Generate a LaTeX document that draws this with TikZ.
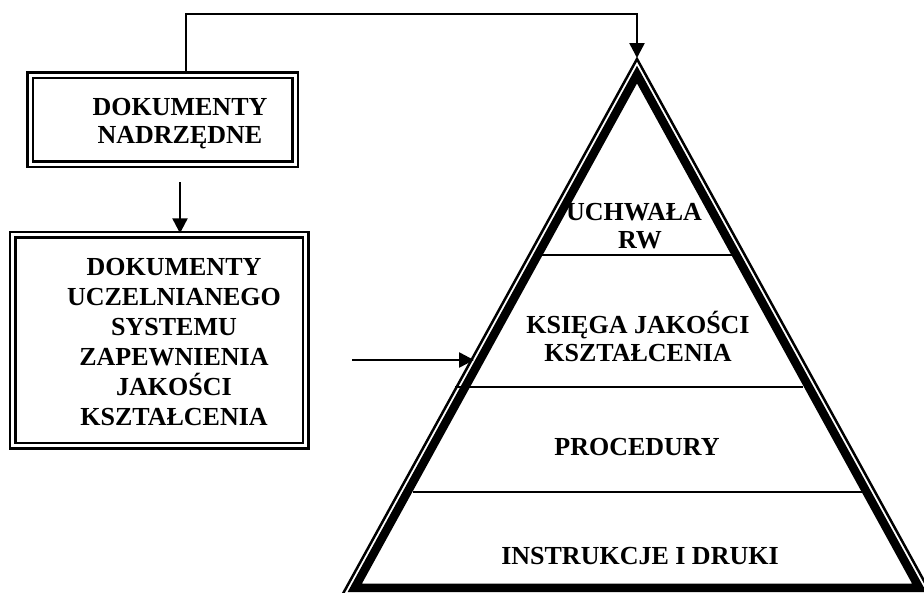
\documentclass[tikz,border=0pt]{standalone}
\usepackage{fontspec}
\setmainfont{Liberation Serif}
\usetikzlibrary{arrows.meta}
\begin{document}
\begin{tikzpicture}[x=1pt,y=-1pt,
  lbl/.style={font=\bfseries\fontsize{26}{29}\selectfont, anchor=base, inner sep=0pt},
  dbox/.style={draw, double, line width=2.5pt, double distance=3pt, inner sep=0pt},
  arr/.style={line width=2.5pt, -{Triangle[length=15pt,width=15pt]}},
  thinedge/.style={line width=2.5pt, line join=miter},
  thickedge/.style={line width=8.5pt, line join=miter},
  layer/.style={line width=2.2pt}]
\useasboundingbox (0,0) rectangle (924,592);
\clip (0,0) rectangle (924,592);

% boxes
\node[dbox, minimum width=265pt, minimum height=89pt] (box1) at (162.5,119.5) {};
\node[dbox, minimum width=293pt, minimum height=211pt] (box2) at (159,340) {};

\node[lbl] (b1a) at (180,115) {DOKUMENTY};
\node[lbl] (b1b) at (180,143) {NADRZĘDNE};

\node[lbl] (b2a) at (174,275) {DOKUMENTY};
\node[lbl] (b2b) at (174,305) {UCZELNIANEGO};
\node[lbl] (b2c) at (174,335) {SYSTEMU};
\node[lbl] (b2d) at (174,365) {ZAPEWNIENIA};
\node[lbl] (b2e) at (174,395) {JAKOŚCI};
\node[lbl] (b2f) at (174,425) {KSZTAŁCENIA};

% pyramid layers
\draw[layer] (536,255) -- (738,255);
\draw[layer] (455,387) -- (803,387);
\draw[layer] (413,492) -- (867,492);

% pyramid
\draw[thinedge] (339.5,600) -- (637,59) -- (934.5,600);
\draw[thickedge] (637,74.6) -- (354.8,587.75) -- (919.2,587.75) -- cycle;

\node[lbl] (p1a) at (634,220) {UCHWAŁA};
\node[lbl] (p1b) at (640,248) {RW};
\node[lbl] (p2a) at (638,333) {KSIĘGA JAKOŚCI};
\node[lbl] (p2b) at (638,361) {KSZTAŁCENIA};
\node[lbl] (p3) at (637,455) {PROCEDURY};
\node[lbl] (p4) at (640,564) {INSTRUKCJE I DRUKI};

% connectors
\coordinate (apex) at (637,58);
\coordinate (turn) at (637,14);
\coordinate (b1top) at ([xshift=23.5pt]box1.north);
\coordinate (a2s) at (180,182);
\coordinate (h1) at (352,360);
\coordinate (h2) at (474,360);

\draw[arr] (b1top) |- (turn) -- (apex);
\draw[arr] (a2s) -- (a2s |- box2.north);
\draw[arr] (h1) -- (h2);
\end{tikzpicture}
\end{document}
